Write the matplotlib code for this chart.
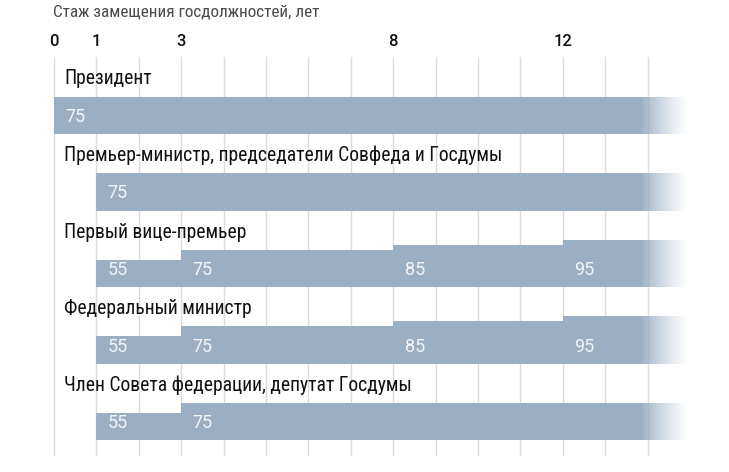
import numpy as np
import matplotlib
matplotlib.use("Agg")
import matplotlib.pyplot as plt

plt.rcParams["font.family"] = ["Roboto Condensed", "Roboto", "DejaVu Sans"]

TITULO = "Стаж замещения госдолжностей, лет"
TICKS = [0, 1, 3, 8, 12]

CARGOS = [
    "Президент",
    "Премьер-министр, председатели Совфеда и Госдумы",
    "Первый вице-премьер",
    "Федеральный министр",
    "Член Совета федерации, депутат Госдумы",
]
# início de cada degrau (anos) e valor (% do salário)
INICIOS = [
    [0],
    [1],
    [1, 3, 8, 12],
    [1, 3, 8, 12],
    [1, 3],
]
VALORES = [
    [75],
    [75],
    [55, 75, 85, 95],
    [55, 75, 85, 95],
    [55, 75],
]

FIM_SOLIDO = 13.8
FIM_FADE = 15.0
ESPACO = 153
COR_BARRA = "#9aaec4"
COR_GRADE = "#dcdcdc"

fig = plt.figure(figsize=(7.29, 4.72), dpi=100)
ax = fig.add_axes([0, 0, 1, 1])
px_ano = 42.4
ax.set_xlim(-54 / px_ano, (729 - 54) / px_ano)
ax.set_ylim(-676, 268)
ax.axis("off")

# grade vertical
for a in range(0, 15):
    ax.plot([a, a], [154, -642], color=COR_GRADE, lw=1, zorder=0)

for t in TICKS:
    ax.text(t, 184, str(t), ha="center", va="center", fontsize=12,
            color="#111111", family=["Roboto", "DejaVu Sans"], weight="medium")

ax.text(-0.02, 244, TITULO, ha="left", va="center", fontsize=12.3, color="#4a4a4a")

n_fade = 40
xs_fade = np.linspace(FIM_SOLIDO, FIM_FADE, n_fade + 1)
alphas = np.linspace(1, 0, n_fade) ** 1.3

for i, (cargo, inicios, valores) in enumerate(zip(CARGOS, INICIOS, VALORES)):
    base = -i * ESPACO
    fins = inicios[1:] + [FIM_SOLIDO]
    for ini, fim, v in zip(inicios, fins, valores):
        ax.fill_between([ini, fim], base, base + v, color=COR_BARRA, lw=0, zorder=2)
        ax.text(ini + 0.27, base + 34, str(v), ha="left", va="center",
                fontsize=13, color="#f2f5f8", zorder=4,
                family=["Roboto", "DejaVu Sans"])
    # desvanecimento no final
    for x0, x1, a in zip(xs_fade[:-1], xs_fade[1:], alphas):
        ax.fill_between([x0, x1], base, base + valores[-1], color=COR_BARRA,
                        alpha=a, lw=0, zorder=2)
    ax.text(0.24, base + 110, cargo, ha="left", va="center", fontsize=14.1,
            color="#111111", zorder=4)

fig.savefig("out.png", dpi=100)
